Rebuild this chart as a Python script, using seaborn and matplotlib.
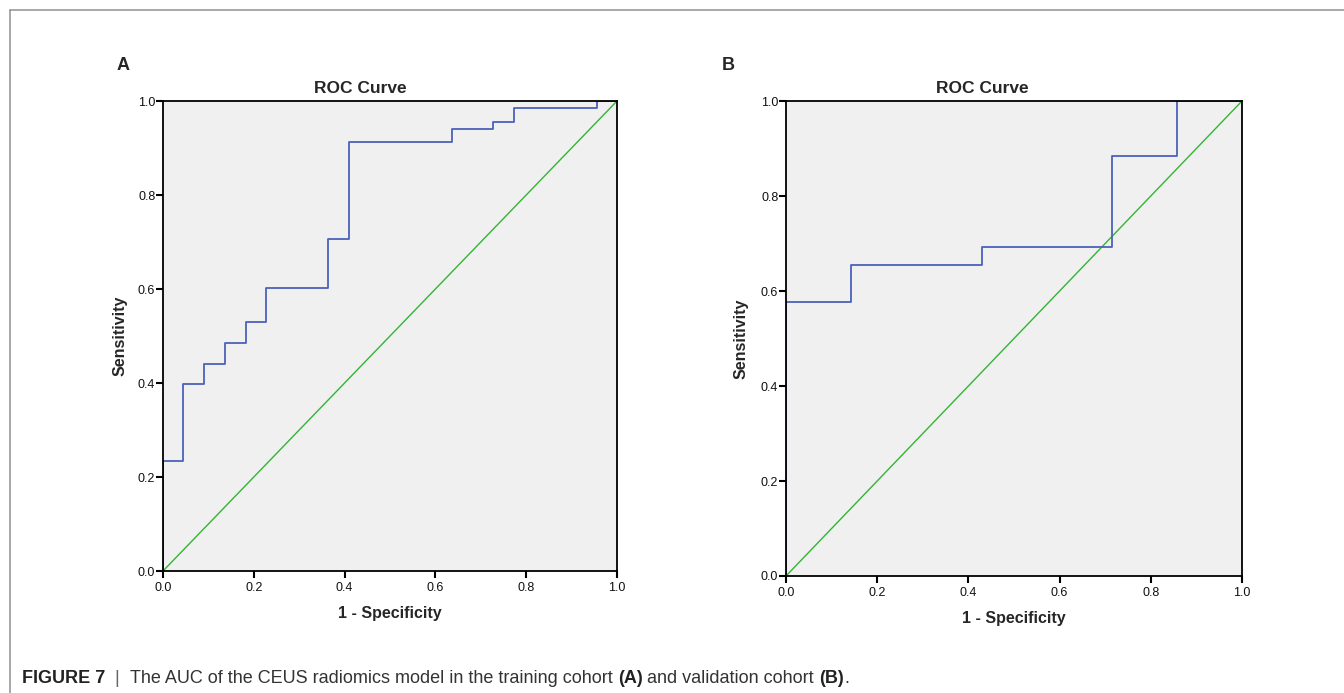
import matplotlib
matplotlib.use("Agg")
import matplotlib.pyplot as plt
import seaborn as sns
import pandas as pd

# ROC step points (1 - specificity, sensitivity)
fpr_a = [0.0, 0.0, 0.045, 0.091, 0.136, 0.182, 0.227, 0.364, 0.409, 0.636, 0.727, 0.773, 0.955, 1.0]
tpr_a = [0.0, 0.235, 0.397, 0.441, 0.485, 0.529, 0.603, 0.706, 0.912, 0.941, 0.956, 0.985, 1.0, 1.0]

fpr_b = [0.0, 0.0, 0.143, 0.429, 0.714, 0.857, 1.0]
tpr_b = [0.0, 0.577, 0.654, 0.692, 0.885, 1.0, 1.0]

ref_line = [0.0, 1.0]
ticks = [0.0, 0.2, 0.4, 0.6, 0.8, 1.0]
tick_labels = ["0.0", "0.2", "0.4", "0.6", "0.8", "1.0"]

sns.set_style("white")
plt.rcParams["font.family"] = ["Liberation Sans", "DejaVu Sans"]

W, H = 1344, 693
fig = plt.figure(figsize=(W / 100, H / 100), dpi=100)

# grey frame around the figure
fig.add_artist(plt.Line2D([9.5 / W, 1.0], [1 - 9.5 / H, 1 - 9.5 / H], color="#999999", lw=1.2))
fig.add_artist(plt.Line2D([9.5 / W, 9.5 / W], [0.0, 1 - 9.5 / H], color="#999999", lw=1.2))

# letter, data, axes box (left, bottom, width, height in px), letter x, ylabel right edge x, title centre x
panels = [
    ("A", fpr_a, tpr_a, (163, 571, 454, 470), 123, 128, 360),
    ("B", fpr_b, tpr_b, (786, 576, 456, 475), 728, 749, 982),
]

for letter, fpr, tpr, (left, bottom, w, h), lx, ylx, tx in panels:
    ax = fig.add_axes([left / W, 1 - bottom / H, w / W, h / H])
    ax.set_facecolor("#f0f0f0")
    df = pd.DataFrame({"fpr": fpr, "tpr": tpr})
    sns.lineplot(x=ref_line, y=ref_line, ax=ax, color="#33b533", lw=1.0)
    sns.lineplot(data=df, x="fpr", y="tpr", ax=ax, color="#4a62b8", lw=1.3,
                 drawstyle="steps-post", sort=False, estimator=None)
    ax.set_xlim(0, 1)
    ax.set_ylim(0, 1)
    ax.set_xticks(ticks)
    ax.set_xticklabels(tick_labels)
    ax.set_yticks(ticks)
    ax.set_yticklabels(tick_labels)
    ax.tick_params(axis="both", direction="out", length=5, width=1.5, color="black",
                   labelsize=9, left=True, bottom=True, labelcolor="#111111")
    ax.tick_params(axis="x", pad=3)
    ax.tick_params(axis="y", pad=0.5)
    for s in ax.spines.values():
        s.set_visible(True)
        s.set_color("black")
        s.set_linewidth(1.3)
    ax.set_title("ROC Curve", fontsize=12.5, fontweight="bold", pad=6, x=(tx - left) / w)
    ax.set_xlabel("1 - Specificity", fontsize=11.5, fontweight="bold")
    ax.set_ylabel("Sensitivity", fontsize=11.5, fontweight="bold")
    ax.xaxis.set_label_coords(0.5, -35 / h)
    ax.yaxis.set_label_coords((ylx - left) / w, 0.5)
    fig.text(lx / W, 1 - 66 / H, letter, fontsize=13, fontweight="bold", ha="center", va="center")

# caption with mixed weights
pieces = [
    ("FIGURE 7", "bold", "#222222"),
    ("  |  ", "light", "#666666"),
    ("The AUC of the CEUS radiomics model in the training cohort ", "normal", "#333333"),
    ("(A)", "bold", "#222222"),
    (" and validation cohort ", "normal", "#333333"),
    ("(B)", "bold", "#222222"),
    (".", "normal", "#333333"),
]
fig.canvas.draw()
renderer = fig.canvas.get_renderer()
x = 22
for txt, weight, col in pieces:
    t = fig.text(x / W, 1 - 683 / H, txt, fontsize=13, fontweight=weight, color=col,
                 ha="left", va="baseline")
    bb = t.get_window_extent(renderer=renderer)
    x += bb.width

fig.savefig("out.png", dpi=100)
